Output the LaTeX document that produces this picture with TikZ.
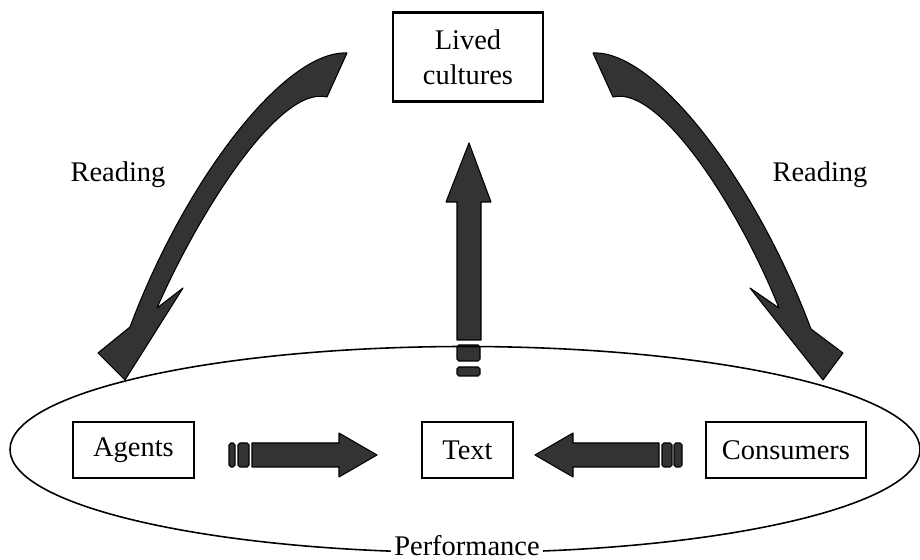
\documentclass[tikz,border=0pt]{standalone}
\usepackage{fontspec}
\setmainfont{Liberation Serif}
\begin{document}
\begin{tikzpicture}[x=0.02cm,y=-0.02cm,
  font=\fontsize{16.2}{19.8}\selectfont,
  box/.style={draw=black,line width=1.2pt,align=center,inner sep=0pt,fill=white},
  blockarrow/.style={fill=black!80,draw=black,line width=0.6pt,line join=round},
  stripe/.style={fill=black!80,draw=black,line width=0.6pt,rounded corners=1pt},
  label/.style={inner sep=0pt}]
\useasboundingbox (0,0) rectangle (920,560);

% boxes
\node[box,minimum width=3cm,minimum height=1.78cm] (lived) at (468,57) {Lived\\cultures};
\node[box,minimum width=2.42cm,minimum height=1.12cm] (agents) at (133.5,450) {Agents};
\node[box,minimum width=1.82cm,minimum height=1.12cm] (text) at (467.5,450) {Text};
\node[box,minimum width=3.2cm,minimum height=1.12cm] (consumers) at (786,450) {Consumers};

% labels
\node[label] (readl) at (118,175) {Reading};
\node[label] (readr) at (820,175) {Reading};

% Agents -> Text
\draw[stripe] (229,443) rectangle (235,467);
\draw[stripe] (238,443) rectangle (249,467);
\draw[blockarrow] (252,443) -- (339,443) -- (339,433) -- (377,455) -- (339,477) -- (339,467) -- (252,467) -- cycle;

% Consumers -> Text
\draw[stripe] (674,443) rectangle (682,467);
\draw[stripe] (662,443) rectangle (672,467);
\draw[blockarrow] (659,443) -- (573,443) -- (573,433) -- (535,455) -- (573,477) -- (573,467) -- (659,467) -- cycle;

% Text -> Lived cultures
\draw[stripe] (457,367) rectangle (480,376);
\draw[stripe] (457,345) rectangle (480,361);
\draw[blockarrow] (457,340) -- (457,202) -- (446,202) -- (469,143) -- (491,202) -- (481,202) -- (481,340) -- cycle;

% Lived cultures -> Agents (reading)
\draw[blockarrow] (347,53) .. controls (285,50) and (185,180) .. (130,327)
  -- (98,353) -- (125,380) -- (183,288) -- (157,308)
  .. controls (200,210) and (280,85) .. (327,97)
  -- cycle;

% Lived cultures -> Consumers (reading)
\draw[blockarrow] (593,53) .. controls (655,50) and (755,180) .. (811,329)
  -- (843,353) -- (823,380) -- (750,288) -- (779,308)
  .. controls (740,210) and (660,85) .. (613,97)
  -- cycle;

% performance ellipse
\draw[line width=0.9pt] (465,449.5) ellipse [x radius=455, y radius=103];
\node[label,fill=white,inner xsep=2pt] (perf) at (467,546) {Performance};
\end{tikzpicture}
\end{document}
